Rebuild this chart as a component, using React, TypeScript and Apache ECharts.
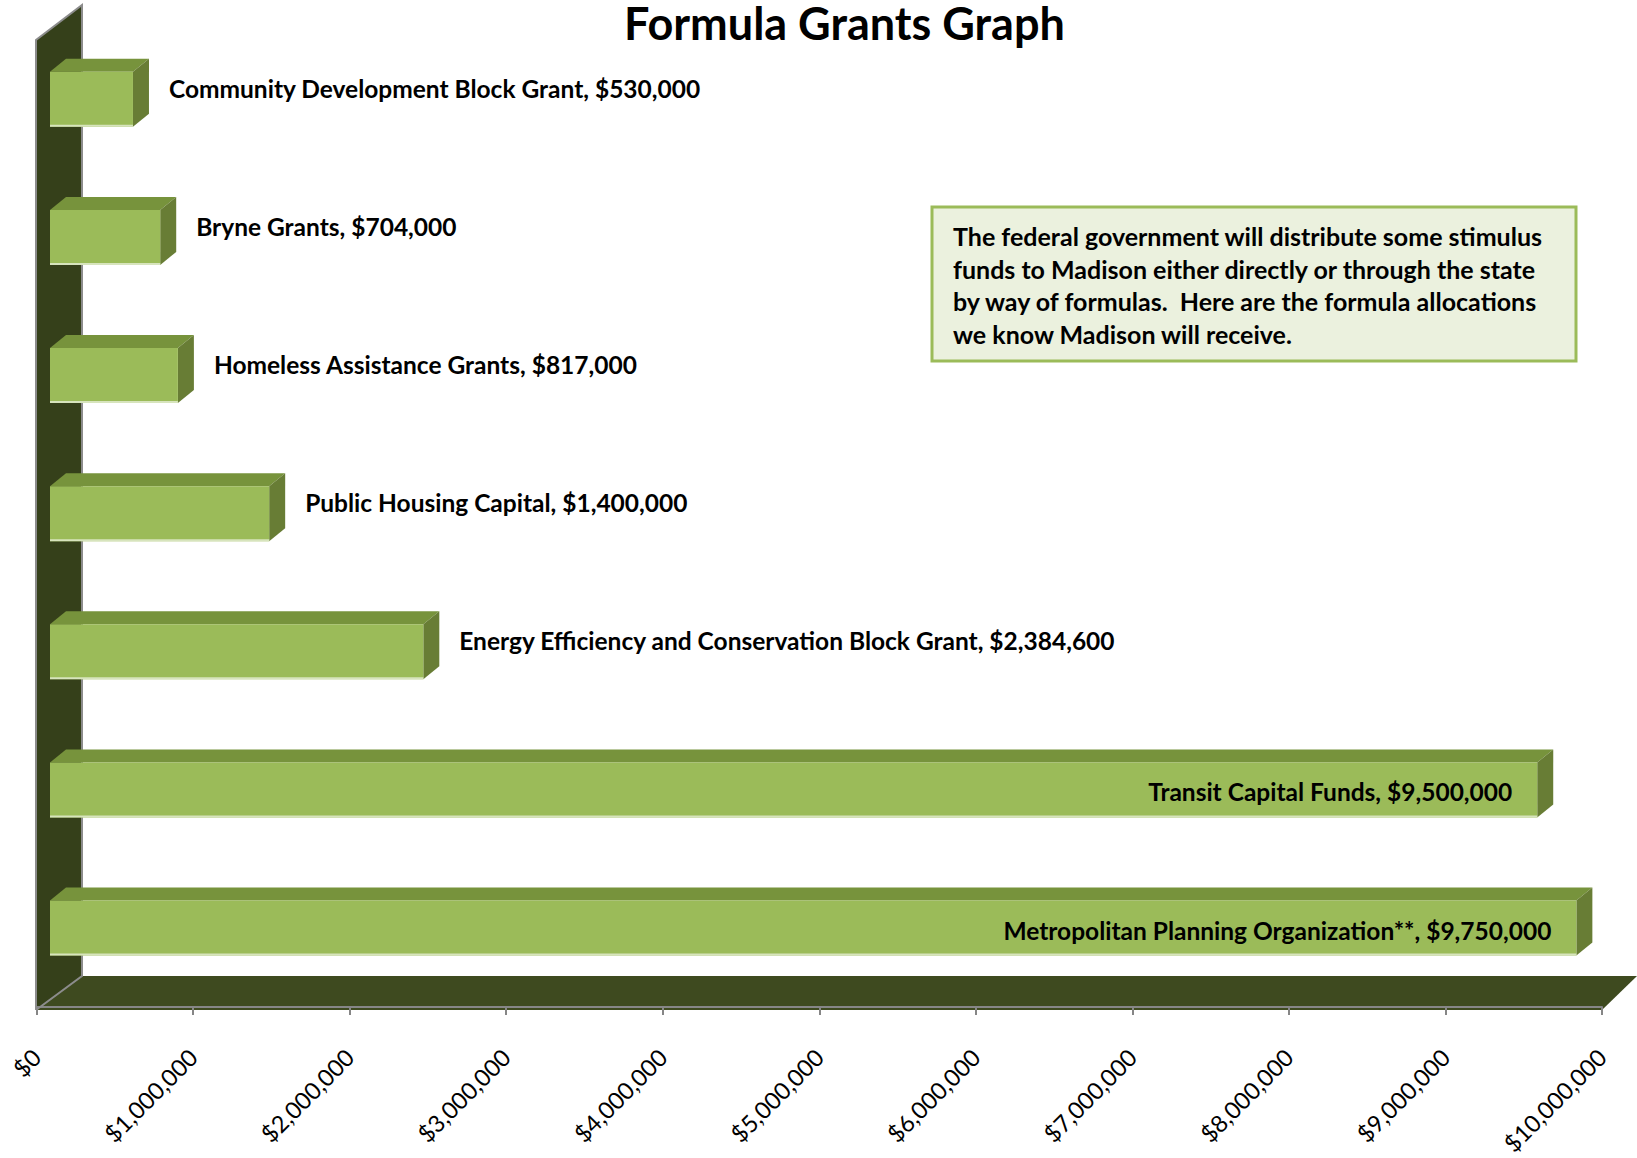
import React, { useEffect, useRef } from "react";
import * as echarts from "echarts";

const categories = [
  "Community Development Block Grant",
  "Bryne Grants",
  "Homeless Assistance Grants",
  "Public Housing Capital",
  "Energy Efficiency and Conservation Block Grant",
  "Transit Capital Funds",
  "Metropolitan Planning Organization**",
];
const values = [530000, 704000, 817000, 1400000, 2384600, 9500000, 9750000];
const tickValues = [0, 1000000, 2000000, 3000000, 4000000, 5000000, 6000000, 7000000, 8000000, 9000000, 10000000];
const noteLines = [
  "The federal government will distribute some stimulus",
  "funds to Madison either directly or through the state",
  "by way of formulas.  Here are the formula allocations",
  "we know Madison will receive.",
];
const titleText = "Formula Grants Graph";

const FONT = "Lato, 'Open Sans', sans-serif";

function money(v: number) {
  return "$" + v.toLocaleString("en-US");
}

export default function App() {
  const ref = useRef<HTMLDivElement>(null);
  useEffect(() => {
    if (!ref.current) return;
    const chart = echarts.init(ref.current, null, { renderer: "svg" });
    const H = 55;
    const DX = 16;
    const DY = 13;
    const OFF = 13.5;

    const renderItem = (params: any, api: any) => {
      const v = api.value(0);
      const c = api.value(1);
      const p0 = api.coord([0, c]);
      const p1 = api.coord([v, c]);
      const x0 = p0[0] + OFF;
      const x1 = p1[0] + OFF;
      const cy = p0[1];
      const y0 = cy - H / 2;
      const y1 = cy + H / 2;
      const label = categories[c] + ", " + money(v);
      const inside = v > 5000000;
      return {
        type: "group",
        children: [
          {
            type: "polygon",
            shape: { points: [[x0, y0], [x1, y0], [x1 + DX, y0 - DY], [x0 + DX, y0 - DY]] },
            style: { fill: "#77933C" },
          },
          {
            type: "polygon",
            shape: { points: [[x1, y0], [x1 + DX, y0 - DY], [x1 + DX, y1 - DY], [x1, y1]] },
            style: { fill: "#687D35" },
          },
          {
            type: "rect",
            shape: { x: x0, y: y0, width: x1 - x0, height: H },
            style: { fill: "#9BBB59" },
          },
          {
            type: "line",
            shape: { x1: x0, y1: y1 - 1, x2: x1, y2: y1 - 1 },
            style: { stroke: "#D7E4BD", lineWidth: 2 },
          },
          {
            type: "text",
            style: inside
              ? {
                  x: x1 - 25,
                  y: cy + 2,
                  text: label,
                  align: "right",
                  verticalAlign: "middle",
                  font: "bold 24.5px " + FONT,
                  fill: "#000",
                }
              : {
                  x: x1 + DX + 20,
                  y: cy - 11,
                  text: label,
                  align: "left",
                  verticalAlign: "middle",
                  font: "bold 24.5px " + FONT,
                  fill: "#000",
                },
          },
        ],
      };
    };

    const option: any = {
      animation: false,
      title: {
        text: titleText,
        left: 624,
        top: 0,
        padding: 0,
        textStyle: { fontFamily: FONT, fontWeight: "bold", fontSize: 45, color: "#000" },
      },
      grid: { left: 36.5, top: 30.2, width: 1565.5, height: 970.6, containLabel: false },
      xAxis: {
        type: "value",
        min: 0,
        max: 10000000,
        interval: 1000000,
        offset: 10,
        axisLine: { show: true, lineStyle: { color: "#868686", width: 2 } },
        axisTick: { show: true, length: 8, lineStyle: { color: "#868686", width: 2 } },
        splitLine: { show: false },
        axisLabel: {
          rotate: 45,
          margin: 46,
          fontFamily: FONT,
          fontSize: 23.5,
          color: "#000",
          formatter: (v: number) => (tickValues.includes(v) ? money(v) : ""),
        },
      },
      yAxis: {
        type: "category",
        data: categories,
        inverse: true,
        show: false,
      },
      graphic: [
        {
          type: "polygon",
          z: 0,
          shape: { points: [[36, 1010], [82, 976], [1637, 976], [1602, 1010]] },
          style: { fill: "#3E4A1F" },
        },
        {
          type: "polygon",
          z: 0,
          shape: { points: [[36, 40], [82, 5], [82, 976], [36, 1010]] },
          style: { fill: "#35401A" },
        },
        {
          type: "polyline",
          z: 1,
          shape: { points: [[36, 1010], [36, 40], [82, 5], [82, 976], [36, 1010]] },
          style: { fill: null, stroke: "#8C8C8C", lineWidth: 2 },
        },
        {
          type: "rect",
          z: 5,
          shape: { x: 932, y: 207, width: 644, height: 154 },
          style: { fill: "#EBF1DE", stroke: "#9BBB59", lineWidth: 3 },
        },
        ...noteLines.map((t, i) => ({
          type: "text",
          z: 6,
          style: {
            x: 953,
            y: 236 + i * 32.7,
            text: t,
            verticalAlign: "middle",
            font: "bold 25px " + FONT,
            fill: "#000",
          },
        })),
      ],
      series: [
        {
          type: "custom",
          renderItem,
          encode: { x: 0, y: 1 },
          data: values.map((v, i) => [v, i]),
          z: 3,
        },
      ],
    };
    chart.setOption(option);
    return () => chart.dispose();
  }, []);
  return (
    <div
      ref={ref}
      style={{ position: "fixed", left: 0, top: 0, width: 1637, height: 1158, background: "#fff" }}
    />
  );
}
